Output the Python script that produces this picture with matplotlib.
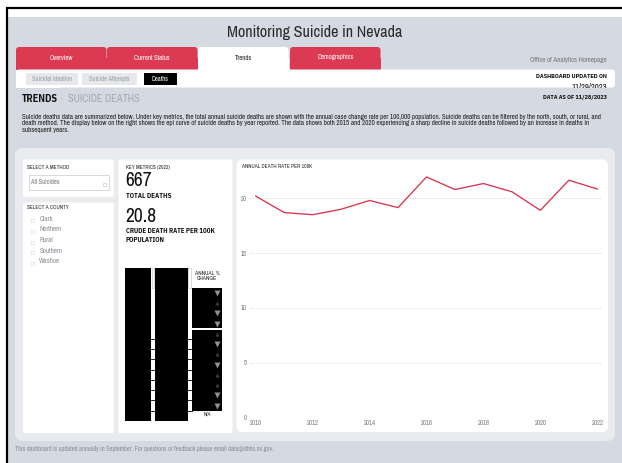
import matplotlib
matplotlib.use('Agg')
import matplotlib.pyplot as plt
from matplotlib.patches import Rectangle, FancyBboxPatch
from matplotlib import font_manager
import numpy as np

# ---------------- data ----------------
years = [2010, 2011, 2012, 2013, 2014, 2015, 2016, 2017, 2018, 2019, 2020, 2021, 2022]
death_rate = [20.2, 18.7, 18.5, 19.0, 19.8, 19.15, 21.95, 20.8, 21.35, 20.6, 18.9, 21.65, 20.85]
y_ticks = [0, 5, 10, 15, 20]
x_ticks = [2010, 2012, 2014, 2016, 2018, 2020, 2022]
total_deaths = "667"
crude_rate = "20.8"
tabs = ["Overview", "Current Status", "Trends", "Demographics"]
subtabs = ["Suicidal Ideation", "Suicide Attempts", "Deaths"]
counties = ["Clark", "Northern", "Rural", "Southern", "Washoe"]
method = "All Suicides"
description = [
    "Suicide deaths data are summarized below. Under key metrics, the total annual suicide deaths are shown with the annual case change rate per 100,000 population. Suicide deaths can be filtered by the north, south, or rural, and",
    "death method. The display below on the right shows the epi curve of suicide deaths by year reported. The data shows both 2015 and 2020 experiencing a sharp decline in suicide deaths followed by an increase in deaths in",
    "subsequent years.",
]
footer = "This dashboard is updated annually in September. For questions or feedback please email data@dhhs.nv.gov."

# ---------------- style ----------------
names = {f.name for f in font_manager.fontManager.ttflist}
FAM = [n for n in ["Archivo Narrow", "Roboto Condensed", "Liberation Sans", "DejaVu Sans"] if n in names]
BOLD = [n for n in ["IBM Plex Sans Condensed", "Asap Condensed", "Roboto Condensed", "DejaVu Sans"] if n in names]
plt.rcParams['font.family'] = FAM

RED = "#dc3a52"
BG = "#d5d9e1"
LIGHT = "#e9ebef"
W, H = 622, 463

fig = plt.figure(figsize=(W / 100, H / 100), dpi=100)
fig.patch.set_facecolor("white")
bg = fig.add_axes([0, 0, 1, 1])
bg.set_xlim(0, W)
bg.set_ylim(H, 0)
bg.axis("off")
renderer = fig.canvas.get_renderer()


def box(x0, y0, x1, y1, fc, r=0, ec="none", lw=0, z=1):
    if r > 0:
        p = FancyBboxPatch((x0, y0), x1 - x0, y1 - y0,
                           boxstyle=f"round,pad=0,rounding_size={r}",
                           fc=fc, ec=ec, lw=lw, zorder=z)
    else:
        p = Rectangle((x0, y0), x1 - x0, y1 - y0, fc=fc, ec=ec, lw=lw, zorder=z)
    bg.add_patch(p)
    return p


def txt(x, y, s, size, color="#222222", weight="normal", ha="left", va="center",
        z=5, width=None, **kw):
    if weight == "bold":
        kw.setdefault("family", BOLD)
    t = bg.text(x, y, s, fontsize=size, color=color, fontweight=weight,
                ha=ha, va=va, zorder=z, **kw)
    if width is not None:
        for _ in range(2):
            w = t.get_window_extent(renderer).width
            if w > 0:
                t.set_fontsize(t.get_fontsize() * width / w)
    return t


def fit_size(s, size, width, weight="normal"):
    t = txt(100, 100, s, size, weight=weight, width=width)
    fs = t.get_fontsize()
    t.remove()
    return fs


# frame
box(0, 0, W, H, "white", z=0)
box(6, 17, W, H, BG, z=0.5)
bg.plot([5.5, W], [8, 8], color="black", lw=1.6, zorder=6, solid_capstyle="butt")
bg.plot([6.5, 6.5], [8, H], color="black", lw=1.6, zorder=6, solid_capstyle="butt")

# title
txt(315, 32, "Monitoring Suicide in Nevada", 12.5, color="#2a2a2a", ha="center",
    weight="light", width=175)

# tabs
tab_x = [16, 107, 198, 290]
tab_w = 90.5
tab_size = fit_size("Current Status", 4.3, 35.7)
for tx, name in zip(tab_x, tabs):
    fc = "white" if name == "Trends" else RED
    box(tx, 47, tx + tab_w, 69.5, fc, r=3, z=1)
    box(tx, 58, tx + tab_w, 69.5, fc, z=1)
    txt(tx + tab_w / 2, 57.5, name, tab_size, color="#222222" if name == "Trends" else "white",
        ha="center")
txt(607, 60, "Office of Analytics Homepage", 4.3, color="#777777", ha="right", width=77)

# sub tab strip
box(16, 69.5, 615, 87.5, "white", r=3, z=1)
box(16, 69.5, 60, 87.5, "white", z=1)
sub_x = [(26, 77.5), (82, 137), (144, 176.5)]
sub_size = fit_size("Suicidal Ideation", 4.0, 40)
for (a, b), name in zip(sub_x, subtabs):
    if name == "Deaths":
        box(a, 72.7, b, 85.3, "black", z=2)
        txt((a + b) / 2, 79, name, sub_size, color="white", ha="center")
    else:
        box(a, 72.7, b, 85.3, "#e6e8ec", z=2)
        txt((a + b) / 2, 79, name, sub_size, color="#9a9ea6", ha="center")
txt(607, 76, "DASHBOARD UPDATED ON", 4.3, color="#111111", weight="bold", ha="right", width=71.4)
txt(607, 86.6, "11/29/2023", 4.3, color="#111111", ha="right", width=35.7, z=4)
# the date is cut off by the bottom of the strip in the dashboard
box(560, 87.5, 615, 91.5, BG, z=4.5)

# section heading
txt(21.8, 98.5, "TRENDS", 7.2, color="#111111", weight="bold", width=35.7)
txt(60.5, 98.5, "-", 6, color="#c0c4ca")
txt(67.5, 98.5, "SUICIDE DEATHS", 7.2, color="#a3a7ae", width=71.4)
txt(607, 97, "DATA AS OF 11/28/2023", 4.3, color="#111111", weight="bold", ha="right", width=65.5)

desc_size = fit_size(description[0], 4.45, 584.5)
for i, line in enumerate(description):
    txt(21.8, 116.7 + i * 6.7, line, desc_size, color="#222222")

# light content panel
box(15, 148, 615, 441, LIGHT, r=8, z=1)

# white panels
box(23, 159.5, 114, 197, "white", r=2, z=2)
box(23, 202.5, 114, 433, "white", r=2, z=2)
box(118.5, 159.5, 232.5, 433, "white", r=2, z=2)
box(236.5, 159.5, 608, 432, "white", r=6, z=2)

# method selector
sel_size = fit_size("SELECT A METHOD", 3.7, 42)
txt(27.3, 167.3, "SELECT A METHOD", sel_size, color="#222222")
box(29.3, 175, 109.3, 190, "white", ec="#d0d3d8", lw=0.6, z=3)
txt(31.3, 181.7, method, 3.9, color="#777777", width=28.3)
box(102.5, 182.5, 105.5, 185.5, "white", ec="#c0c3c8", lw=0.4, z=4)

# county selector
txt(27.3, 207.7, "SELECT A COUNTY", sel_size, color="#222222")
c_size = fit_size("Northern", 4.0, 22.5)
for i, c in enumerate(counties):
    yy = 218.7 + i * 10.65
    box(30.8, yy + 0.5, 33.8, yy + 3.5, "white", ec="#d8dade", lw=0.4, z=3)
    txt(39.3, yy, c, c_size, color="#8a8e95")

# key metrics
txt(125.7, 167, "KEY METRICS (2022)", 3.6, color="#222222", width=44)
txt(125.0, 180.2, total_deaths, 14, color="#111111", weight="medium")
txt(125.7, 195, "TOTAL DEATHS", 4.6, color="#111111", weight="bold", width=44.3)
txt(125.0, 216.2, crude_rate, 14, color="#111111", weight="medium")
km_size = fit_size("CRUDE DEATH RATE PER 100K", 4.6, 90, weight="bold")
txt(125.7, 230.5, "CRUDE DEATH RATE PER 100K", km_size, color="#111111", weight="bold")
txt(125.7, 239.5, "POPULATION", km_size, color="#111111", weight="bold")

# annual % change table (obscured columns drawn as black blocks)
top, bot = 267.7, 421
row_top, row_h = 287.7, 10.25
n_rows = len(years) - 1
box(125, top, 151, bot, "black", z=3)
box(155, top, 187.7, bot, "black", z=3)
for sx in (151, 187.7):
    box(sx + 0.6, top, sx + 3.4, top + 20, "white", ec="#c8cace", lw=0.5, z=3)
box(191.7, row_top, 222, row_top + 4 * row_h - 0.6, "black", z=3)
box(191.7, row_top + 4 * row_h + 0.8, 222, row_top + n_rows * row_h, "black", z=3)
hdr_size = fit_size("ANNUAL %", 3.4, 25)
txt(207.3, 273.3, "ANNUAL %", hdr_size, color="#222222", ha="center")
txt(207.3, 278.9, "CHANGE", hdr_size, color="#222222", ha="center")
for k in range(4, n_rows):
    yb = row_top + (k + 1) * row_h
    for sx in (151, 187.7):
        bg.plot([sx - 0.5, sx + 4], [yb, yb], color="black", lw=0.6, zorder=4)
# triangles: most recent year first
diffs = np.diff(death_rate)[::-1]
for k, d in enumerate(diffs):
    yc = row_top + (k + 0.5) * row_h
    if d < 0:
        bg.plot(216.7, yc, marker="v", ms=4.2, color="#8e9197", mec="none", zorder=5)
    else:
        bg.plot(216.7, yc, marker="^", ms=3.0, color="#3c3c3c", mec="none", zorder=5)
txt(207.3, 414.5, "N/A", 3.9, color="#222222", ha="center")

# footer
txt(15, 449.5, footer, 3.9, color="#8a8e95", width=259)

# ---------------- line chart ----------------
px_per_year = (597.3 - 255.7) / 12
px_per_unit = (417.3 - 198.3) / 20
x_lo, x_hi = 2009.8, 2022.15
y_hi = 22.5
left_px = 255.7 - (2010 - x_lo) * px_per_year
right_px = 597.3 + (x_hi - 2022) * px_per_year
top_px = 417.3 - y_hi * px_per_unit
ax = fig.add_axes([left_px / W, (H - 417.3) / H, (right_px - left_px) / W, (417.3 - top_px) / H])
ax.set_facecolor("none")
ax.plot(years, death_rate, color="#d8354e", lw=0.95, zorder=3)
ax.set_xlim(x_lo, x_hi)
ax.set_ylim(0, y_hi)
ax.set_yticks(y_ticks)
ax.set_xticks(x_ticks)
ax.grid(axis="y", linestyle=(0, (1, 2.2)), color="#c4c6ca", lw=0.6)
for s in ax.spines.values():
    s.set_visible(False)
ax.tick_params(length=0, labelsize=4.8, labelcolor="#7a7d82", pad=2.2)
txt(241.7, 167, "ANNUAL DEATH RATE PER 100K", 3.6, color="#222222", width=70)

fig.savefig("out.png", dpi=100, facecolor="white")
